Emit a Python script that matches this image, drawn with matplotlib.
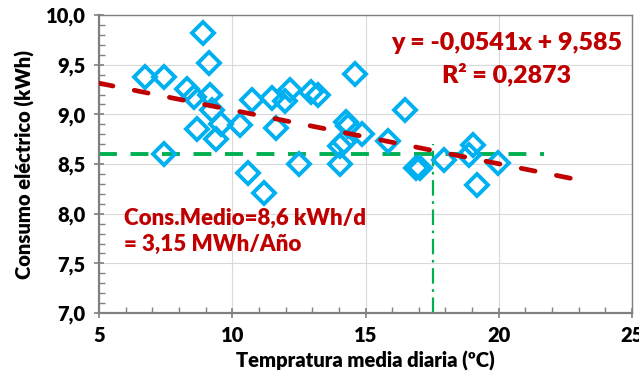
import matplotlib
matplotlib.use("Agg")
import matplotlib.pyplot as plt
from matplotlib.ticker import MultipleLocator, FuncFormatter

plt.rcParams['font.family'] = ['Lato', 'DejaVu Sans']
plt.rcParams['font.weight'] = 'heavy'

temp = [6.73, 7.45, 8.90, 9.12, 8.31, 8.57, 9.15, 9.24, 8.67, 9.59, 9.40,
        10.30, 10.74, 11.49, 11.99, 12.15, 11.65, 12.96, 13.21, 14.62,
        14.25, 14.36, 14.86, 14.18, 14.06, 7.44, 10.58, 11.20, 12.52, 14.06,
        16.50, 15.84, 16.88, 17.05, 17.94, 19.05, 18.88, 19.17, 19.97]
cons = [9.38, 9.38, 9.82, 9.52, 9.26, 9.18, 9.20, 9.04, 8.85, 8.90, 8.75,
        8.89, 9.15, 9.17, 9.14, 9.25, 8.86, 9.23, 9.20, 9.41,
        8.92, 8.88, 8.80, 8.72, 8.68, 8.60, 8.41, 8.21, 8.50, 8.50,
        9.04, 8.73, 8.46, 8.46, 8.54, 8.69, 8.59, 8.29, 8.51]

slope = -0.0541
intercept = 9.585
fit_x = [5, 23]
mean_cons = 8.6
mean_x = [5, 21.7]
mean_temp = 17.55
vline_y = [7.0, 8.7]

RED = '#C00000'
CYAN = '#00B0F0'
GREEN = '#00B050'
W = 'heavy'

fig = plt.figure(figsize=(6.39, 3.87), dpi=100)
ax = fig.add_axes([0.155, 0.191, 0.834, 0.770])

ax.grid(True, which='major', color='#D9D9D9', lw=0.8)
ax.set_axisbelow(True)

ax.plot(temp, cons, linestyle='none', marker='D', markersize=10.8,
        markerfacecolor='none', markeredgecolor=CYAN, markeredgewidth=2.8, zorder=3)

fy = [intercept + slope * x for x in fit_x]
ax.plot(fit_x, fy, color=RED, lw=3.4, dashes=(3.0, 4.6), dash_capstyle='round', zorder=4)

ax.plot(mean_x, [mean_cons, mean_cons], color=GREEN, lw=2.8, dashes=(4.6, 3.5), zorder=2)
ax.plot([mean_temp, mean_temp], vline_y, color=GREEN, lw=1.6,
        dashes=(7, 2.5, 1.2, 2.5), zorder=2)

ax.set_xlim(5, 25)
ax.set_ylim(7.0, 10.0)
ax.xaxis.set_major_locator(MultipleLocator(5))
ax.xaxis.set_minor_locator(MultipleLocator(1))
ax.yaxis.set_major_locator(MultipleLocator(0.5))
ax.yaxis.set_minor_locator(MultipleLocator(0.1))
ax.yaxis.set_major_formatter(FuncFormatter(lambda v, p: f"{v:.1f}".replace('.', ',')))
ax.xaxis.set_major_formatter(FuncFormatter(lambda v, p: f"{v:.0f}"))

for s in ax.spines.values():
    s.set_color('#808080')
    s.set_linewidth(1.0)
ax.spines['left'].set_linewidth(1.6)
ax.spines['bottom'].set_linewidth(1.6)

ax.tick_params(which='major', direction='inout', length=7, width=1.2, color='#808080',
               labelsize=14.5, labelcolor='black', pad=6)
ax.tick_params(which='minor', direction='in', length=4, width=1.0, color='#808080')
for lab in ax.get_xticklabels() + ax.get_yticklabels():
    lab.set_fontweight(W)

ax.set_xlabel('Tempratura media diaria (ºC)', fontsize=14.5, fontweight=W, labelpad=4)
ax.set_ylabel('Consumo eléctrico (kWh)', fontsize=14.5, fontweight=W, labelpad=8)

ax.text(0.765, 0.905, 'y = -0,0541x + 9,585', transform=ax.transAxes, ha='center', va='center',
        fontsize=18, fontweight=W, color=RED)
ax.text(0.765, 0.80, 'R² = 0,2873', transform=ax.transAxes, ha='center', va='center',
        fontsize=18, fontweight=W, color=RED)
ax.text(0.047, 0.275, 'Cons.Medio=8,6 kWh/d\n= 3,15 MWh/Año', transform=ax.transAxes,
        ha='left', va='center', fontsize=16, fontweight=W, color=RED, linespacing=1.3)

fig.savefig('out.png', dpi=100)
